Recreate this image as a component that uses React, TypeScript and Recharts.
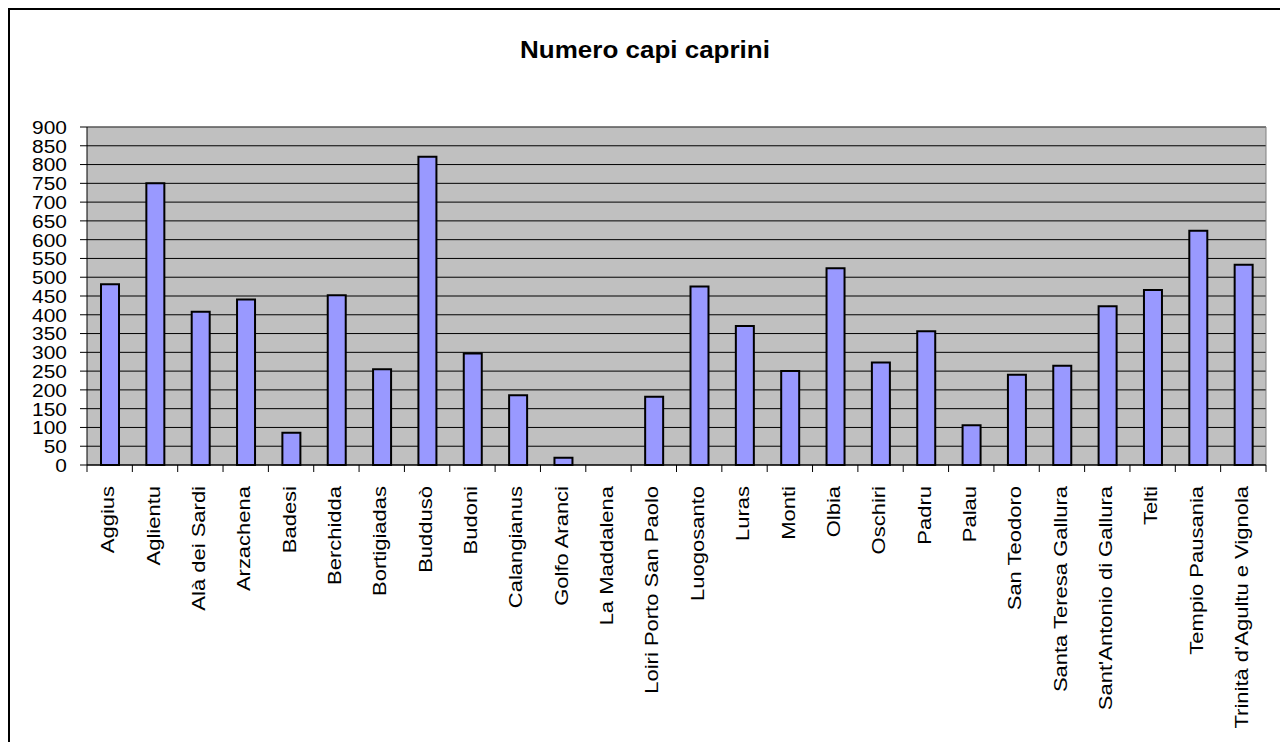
import { BarChart, Bar, XAxis, YAxis, CartesianGrid, ReferenceLine } from 'recharts';

const comuni = [
  'Aggius', 'Aglientu', 'Alà dei Sardi', 'Arzachena', 'Badesi', 'Berchidda',
  'Bortigiadas', 'Buddusò', 'Budoni', 'Calangianus', 'Golfo Aranci', 'La Maddalena',
  'Loiri Porto San Paolo', 'Luogosanto', 'Luras', 'Monti', 'Olbia', 'Oschiri',
  'Padru', 'Palau', 'San Teodoro', 'Santa Teresa Gallura', "Sant'Antonio di Gallura",
  'Telti', 'Tempio Pausania', "Trinità d'Agultu e Vignola",
];

const capi = [
  481, 750, 408, 441, 86, 452, 255, 821, 297, 186, 19, 0,
  182, 475, 370, 250, 524, 273, 356, 106, 240, 264, 423, 466, 624, 533,
];

const yTicks = [0, 50, 100, 150, 200, 250, 300, 350, 400, 450, 500, 550, 600, 650, 700, 750, 800, 850, 900];

const data = comuni.map((nome, i) => ({ nome, capi: capi[i] }));

const FONT = '"Liberation Sans", Arial, sans-serif';
const W = 1270;
const H = 732;
const M = { top: 117, right: 14, left: 0, bottom: 0 };
const Y_W = 77;
const PLOT_W = W - M.right - M.left - Y_W;
const BAND = PLOT_W / comuni.length;

function YTick({ x, y, payload }: any) {
  return (
    <g transform={`translate(${x},${y}) scale(1.1,1)`}>
      <text x={0} y={0} dy="0.36em" textAnchor="end" fontSize={19} fontFamily={FONT} fill="#000">
        {payload.value}
      </text>
    </g>
  );
}

function XTick({ x, y, payload, index }: any) {
  const left = x - BAND / 2;
  const last = index === comuni.length - 1;
  return (
    <g>
      <line x1={left} y1={y} x2={left} y2={y + 7} stroke="#000" />
      {last && <line x1={x + BAND / 2} y1={y} x2={x + BAND / 2} y2={y + 7} stroke="#000" />}
      <g transform={`translate(${x},${y + 21}) rotate(-90) scale(1,0.8)`}>
        <text x={0} y={0} dy={5.8} textAnchor="end" fontSize={22} fontFamily={FONT} fill="#000">
          {payload.value}
        </text>
      </g>
    </g>
  );
}

export default function App() {
  return (
    <div
      style={{
        position: 'relative',
        width: W,
        height: H,
        border: '2px solid #000',
        background: '#fff',
        fontFamily: FONT,
      }}
    >
      <div
        style={{
          position: 'absolute',
          top: 29,
          left: 0,
          width: '100%',
          textAlign: 'center',
          fontSize: 23,
          lineHeight: 1,
          fontWeight: 'bold',
          transform: 'scaleX(1.13)',
        }}
      >
        Numero capi caprini
      </div>
      <BarChart width={W} height={H} data={data} margin={M}>
        <CartesianGrid vertical={false} stroke="#000" fill="#C0C0C0" fillOpacity={1} />
        <CartesianGrid
          horizontal={false}
          stroke="#808080"
          verticalCoordinatesGenerator={({ offset }: any) => [offset.left + offset.width]}
        />
        <ReferenceLine y={900} stroke="#808080" />
        <XAxis
          dataKey="nome"
          interval={0}
          height={H - M.top - 338}
          tickLine={false}
          tickSize={0}
          tickMargin={0}
          axisLine={{ stroke: '#000' }}
          tick={<XTick />}
        />
        <YAxis
          width={Y_W}
          domain={[0, 900]}
          ticks={yTicks}
          interval={0}
          tickSize={7}
          tickMargin={13}
          axisLine={{ stroke: '#000' }}
          tickLine={{ stroke: '#000' }}
          tick={<YTick />}
        />
        <Bar dataKey="capi" fill="#9999FF" stroke="#000" strokeWidth={2} barSize={18} isAnimationActive={false} />
      </BarChart>
    </div>
  );
}
